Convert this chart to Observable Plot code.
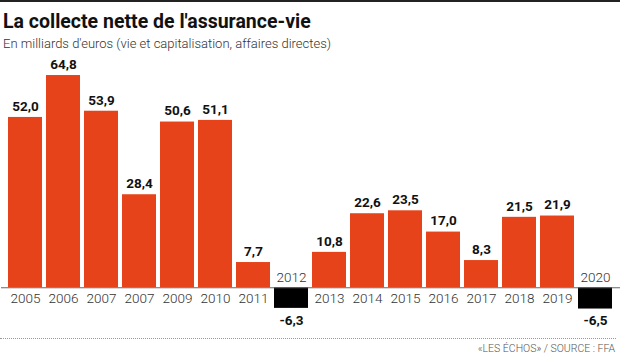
<!DOCTYPE html>
<html><head><meta charset="utf-8">
<script src="https://cdn.jsdelivr.net/npm/d3@7"></script>
<script src="https://cdn.jsdelivr.net/npm/@observablehq/plot@0.6"></script>
<style>
body{margin:0;background:#fff;width:620px;font-family:Roboto,"Liberation Sans",sans-serif;}
#top{border-top:2px solid #222;}
#title{font-weight:700;font-size:19.5px;color:#111;margin:9px 0 0 3px;line-height:22px;}
#sub{font-weight:300;font-size:13px;color:#333;margin:2px 0 0 3px;line-height:17px;}
#chart{height:280px;margin-top:0px;}
#dots{border-top:1px dotted #999;margin:6px 4px 0 0;}
#cap{font-size:10.5px;color:#555;text-align:right;padding-right:5px;margin-top:3px;font-weight:300;}
</style></head>
<body>
<div id="top"></div>
<div id="title">La collecte nette de l'assurance-vie</div>
<div id="sub">En milliards d'euros (vie et capitalisation, affaires directes)</div>
<div id="chart"></div>
<div id="dots"></div>
<div id="cap">«LES ÉCHOS» / SOURCE : FFA</div>
<script>
const yearLabels = ["2005","2006","2007","2007","2009","2010","2011","2012","2013","2014","2015","2016","2017","2018","2019","2020"];
const values = [52.0, 64.8, 53.9, 28.4, 50.6, 51.1, 7.7, -6.3, 10.8, 22.6, 23.5, 17.0, 8.3, 21.5, 21.9, -6.5];

const data = values.map((v, i) => ({key: i, label: yearLabels[i], value: v}));
const fmt = v => v.toFixed(1).replace(".", ",");

const chart = Plot.plot({
  width: 620, height: 280,
  marginLeft: 1, marginRight: 0, marginTop: 6, marginBottom: 12,
  x: {type: "band", domain: data.map(d => d.key), paddingInner: 0.1, paddingOuter: 0.05, axis: null},
  y: {domain: [-10, 70], axis: null},
  style: {fontFamily: "Roboto, 'Liberation Sans', sans-serif", background: "#fff", overflow: "visible"},
  marks: [
    Plot.barY(data, {x: "key", y: "value", fill: d => d.value < 0 ? "#000" : "#e6431a"}),
    Plot.ruleY([0], {stroke: "#666", strokeWidth: 1}),
    Plot.text(data.filter(d => d.value >= 0), {x: "key", y: "value", text: d => fmt(d.value), dy: -11, fontWeight: 700, fontSize: 13.5, fill: "#111"}),
    Plot.text(data.filter(d => d.value < 0), {x: "key", y: "value", text: d => fmt(d.value), dy: 12, fontWeight: 700, fontSize: 13.5, fill: "#111"}),
    Plot.text(data.filter(d => d.value >= 0), {x: "key", y: 0, text: "label", dy: 11, fontSize: 13.5, fontWeight: 300, fill: "#333"}),
    Plot.text(data.filter(d => d.value < 0), {x: "key", y: 0, text: "label", dy: -10, fontSize: 13.5, fontWeight: 300, fill: "#333"})
  ]
});
document.getElementById("chart").appendChild(chart);
</script>
</body></html>
